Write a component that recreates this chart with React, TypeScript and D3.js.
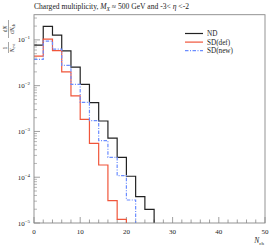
import React from "react";
import * as d3 from "d3";

const binWidth = 2;
const ndValues = [0.0769, 0.197, 0.127, 0.0578, 0.0255, 0.0107, 0.00428, 0.00169, 7.18e-4, 2.72e-4, 1.05e-4, 3.75e-5, 1.99e-5];
const sdDefValues = [0.0442, 0.104, 0.058, 0.0201, 0.00601, 0.00184, 5.5e-4, 1.85e-4, 3.07e-5, 1.2e-5];
const sdNewValues = [0.0375, 0.0942, 0.063, 0.0277, 0.0107, 0.0043, 0.00173, 6.27e-4, 2.72e-4, 1.08e-4, 3.18e-5];
const xTicks = [0, 10, 20, 30, 40, 50];
const yDecades = [-5, -4, -3, -2, -1];

const series = [
  { name: "ND", values: ndValues, color: "#222222", dash: "" },
  { name: "SD(def)", values: sdDefValues, color: "#f0553a", dash: "" },
  { name: "SD(new)", values: sdNewValues, color: "#6a8cff", dash: "3.5,1.5,1,1.5" },
];

const L = 34, R = 265, T = 14.7, B = 223;
const FONT = "'Liberation Serif', 'DejaVu Serif', serif";

export default function App() {
  const x = d3.scaleLinear().domain([0, 50]).range([L, R]);
  const y = d3.scaleLog().domain([1e-5, 0.355]).range([B, T]);

  const stepPath = (vals: number[]) => {
    let p = `M${x(0)},${y(vals[0])}`;
    vals.forEach((v, i) => {
      p += `H${x((i + 1) * binWidth)}`;
      const next = i + 1 < vals.length ? y(vals[i + 1]) : B;
      p += `V${next}`;
    });
    return p;
  };

  const minorX = d3.range(0, 51, 2).filter((d) => d % 10 !== 0);
  const minorY: number[] = [];
  for (let e = -5; e <= -1; e++) {
    for (let m = 2; m <= 9; m++) {
      const v = m * Math.pow(10, e);
      if (v <= 0.355) minorY.push(v);
    }
  }

  return (
    <svg width={274} height={248} style={{ position: "absolute", left: 0, top: 0 }}>
      <rect width={274} height={248} fill="#fff" />
      <text x={L} y={9} fontFamily={FONT} fontSize={7.6} fill="#222">
        Charged multiplicity, <tspan fontStyle="italic">M</tspan>
        <tspan fontStyle="italic" fontSize={5.5} dy={1.5}>X</tspan>
        <tspan dy={-1.5}> ≈ 500 GeV and -3&lt; </tspan>
        <tspan fontStyle="italic">η</tspan>
        <tspan> &lt;-2</tspan>
      </text>

      <defs>
        <clipPath id="plotclip">
          <rect x={L} y={T} width={R - L} height={B - T} />
        </clipPath>
      </defs>

      {/* ticks */}
      {xTicks.map((t) => (
        <line key={"xt" + t} x1={x(t)} x2={x(t)} y1={B} y2={B - 6} stroke="#888" strokeWidth={0.8} />
      ))}
      {minorX.map((t) => (
        <line key={"xm" + t} x1={x(t)} x2={x(t)} y1={B} y2={B - 3.5} stroke="#888" strokeWidth={0.8} />
      ))}
      {yDecades.map((e) => (
        <line key={"yt" + e} x1={L} x2={L + 6} y1={y(Math.pow(10, e))} y2={y(Math.pow(10, e))} stroke="#888" strokeWidth={0.8} />
      ))}
      {minorY.map((v, i) => (
        <line key={"ym" + i} x1={L} x2={L + 3} y1={y(v)} y2={y(v)} stroke="#888" strokeWidth={0.6} />
      ))}

      {/* tick labels */}
      {xTicks.map((t) => (
        <text key={"xl" + t} x={x(t)} y={234} textAnchor="middle" fontFamily={FONT} fontSize={7} fill="#222">
          {t}
        </text>
      ))}
      {yDecades.map((e) => (
        <text key={"yl" + e} x={L - 4} y={y(Math.pow(10, e)) + 2.5} textAnchor="end" fontFamily={FONT} fontSize={7} fill="#222">
          10<tspan fontSize={5} dy={-3}>{"−" + Math.abs(e)}</tspan>
        </text>
      ))}

      {/* histograms */}
      <g clipPath="url(#plotclip)">
        {series.map((s) => (
          <path key={s.name} d={stepPath(s.values)} fill="none" stroke={s.color} strokeWidth={1.2} strokeDasharray={s.dash} />
        ))}
      </g>

      {/* frame */}
      <rect x={L} y={T} width={R - L} height={B - T} fill="none" stroke="#888" strokeWidth={0.9} />

      {/* legend */}
      {series.map((s, i) => (
        <g key={"lg" + s.name}>
          <line x1={185} x2={203} y1={33.5 + i * 8.6} y2={33.5 + i * 8.6} stroke={s.color} strokeWidth={1.2} strokeDasharray={s.dash} />
          <text x={207} y={36 + i * 8.6} fontFamily={FONT} fontSize={7.2} fill="#222">
            {s.name}
          </text>
        </g>
      ))}

      {/* x label */}
      <text x={264} y={243} textAnchor="end" fontFamily={FONT} fontSize={7.5} fill="#222">
        <tspan fontStyle="italic">N</tspan>
        <tspan fontSize={5} dy={1.5}>ch</tspan>
      </text>

      {/* y label: 1/N_evt dN/dN_ch rotated */}
      <g transform="translate(9,36) rotate(-90)" fontFamily={FONT} fill="#222">
        <text x={-12} y={-2} textAnchor="middle" fontSize={5.5}>1</text>
        <line x1={-17} x2={-6} y1={-0.5} y2={-0.5} stroke="#222" strokeWidth={0.4} />
        <text x={-12} y={5} textAnchor="middle" fontSize={5.5}>
          <tspan fontStyle="italic">N</tspan>
          <tspan fontSize={4} dy={1}>evt</tspan>
        </text>
        <text x={7} y={-2} textAnchor="middle" fontSize={5.5}>
          d<tspan fontStyle="italic">N</tspan>
        </text>
        <line x1={-2} x2={16} y1={-0.5} y2={-0.5} stroke="#222" strokeWidth={0.4} />
        <text x={7} y={5} textAnchor="middle" fontSize={5.5}>
          d<tspan fontStyle="italic">N</tspan>
          <tspan fontSize={4} dy={1}>ch</tspan>
        </text>
      </g>
    </svg>
  );
}
